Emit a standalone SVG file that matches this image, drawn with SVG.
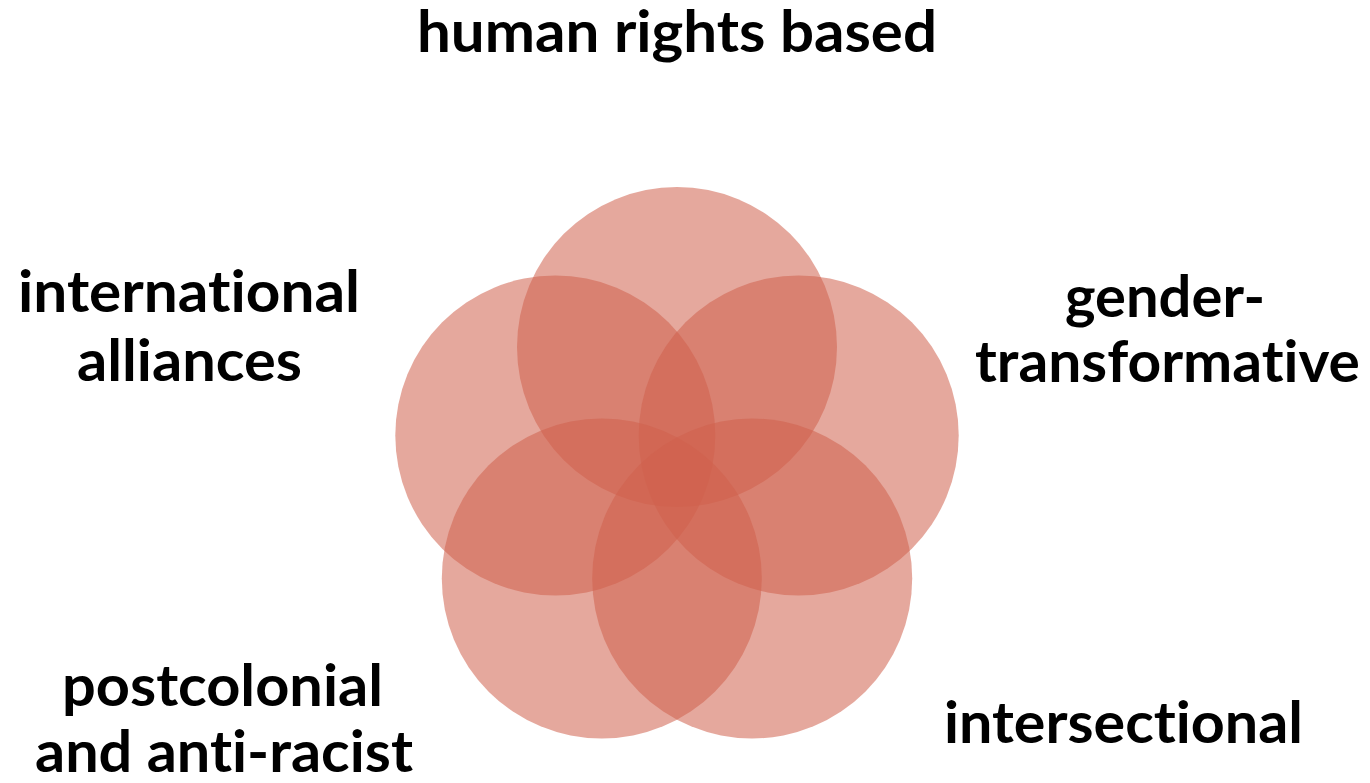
<svg xmlns="http://www.w3.org/2000/svg" width="1370" height="783" viewBox="0 0 1370 783">
<style>
.c{fill:#D0604C;fill-opacity:0.55;}
.t{font-family:Lato,"Open Sans","Liberation Sans",sans-serif;font-weight:bold;font-size:58px;fill:#000;text-anchor:middle;font-variant-ligatures:none;font-feature-settings:"liga" 0,"clig" 0;}
</style>
<rect width="1370" height="783" fill="#fff"/>
<g id="circles">
<g id="c-top"><circle class="c" cx="677" cy="347" r="160"/></g>
<g id="c-left"><circle class="c" cx="555.3" cy="435.5" r="160"/></g>
<g id="c-right"><circle class="c" cx="798.7" cy="435.5" r="160"/></g>
<g id="c-bl"><circle class="c" cx="601.8" cy="578.5" r="160"/></g>
<g id="c-br"><circle class="c" cx="752.2" cy="578.5" r="160"/></g>
</g>
<g id="connectors"/>
<g id="label-top"><text class="t" x="677" y="52" textLength="520" lengthAdjust="spacingAndGlyphs">human rights based</text></g>
<g id="label-left"><text class="t" x="189" y="312" textLength="342" lengthAdjust="spacingAndGlyphs">international</text><text class="t" x="189.5" y="381" textLength="225" lengthAdjust="spacingAndGlyphs">alliances</text></g>
<g id="label-right"><text class="t" x="1165" y="317" textLength="200" lengthAdjust="spacingAndGlyphs">gender-</text><text class="t" x="1167.5" y="382" textLength="385" lengthAdjust="spacingAndGlyphs">transformative</text></g>
<g id="label-bl"><text class="t" x="222.5" y="706" textLength="321" lengthAdjust="spacingAndGlyphs">postcolonial</text><text class="t" x="224" y="772" textLength="378" lengthAdjust="spacingAndGlyphs">and anti-racist</text></g>
<g id="label-br"><text class="t" x="1123.5" y="743" textLength="359" lengthAdjust="spacingAndGlyphs">intersectional</text></g>
</svg>
